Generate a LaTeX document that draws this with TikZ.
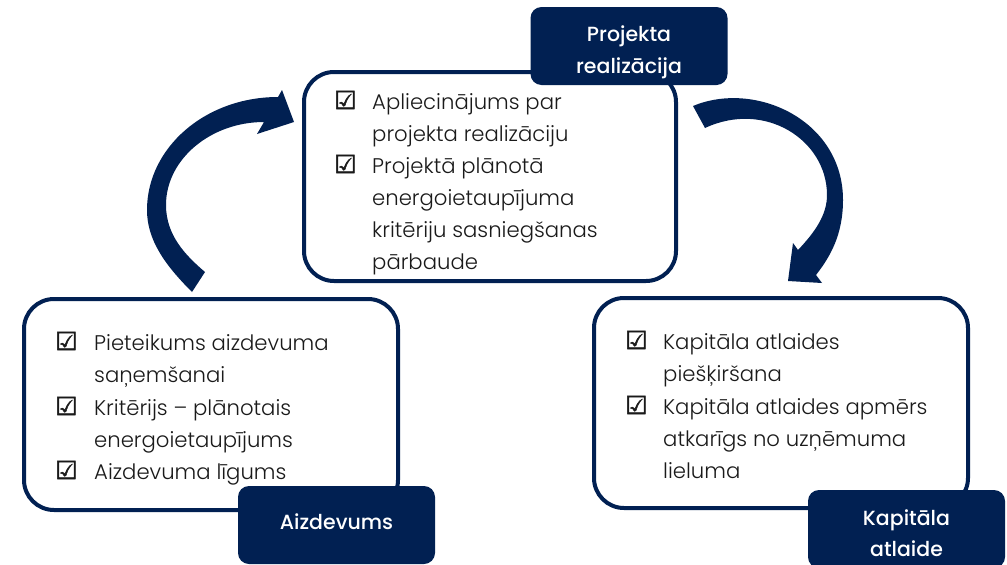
\documentclass[tikz,border=0pt]{standalone}
\usepackage{fontspec}
\setmainfont{Poppins Light}
\newfontfamily\labfont{Poppins Medium}
\newfontfamily\symfont{DejaVu Sans}[FakeBold=2]
\definecolor{navy}{HTML}{012052}
\definecolor{ink}{HTML}{1A1A1A}
\begin{document}
\begin{tikzpicture}[x=1pt,y=-1pt,
  box/.style={draw=navy, line width=4pt, rounded corners=30pt, fill=white, inner sep=0pt},
  lab/.style={fill=navy, rounded corners=11pt, inner sep=0pt, minimum width=197pt, minimum height=78pt},
  labtxt/.style={anchor=base, inner sep=0pt, text=white, font=\labfont\fontsize{20.5}{30}\selectfont},
  txt/.style={anchor=base west, inner sep=0pt, text=ink, font=\fontsize{21.2}{32}\selectfont},
  chk/.style={anchor=base west, inner sep=0pt, text=ink, font=\symfont\fontsize{25}{26}\selectfont}]
\clip (0,0) rectangle (1007,565);
\fill[white] (0,0) rectangle (1007,565);
% curved arrows
\fill[navy] (192,292) .. controls (165,265) and (147,240) .. (147,210)
  .. controls (147,148) and (205,97) .. (278,97)
  -- (282,90) -- (294,122) -- (257,134) -- (264,122)
  .. controls (211,122) and (166,159) .. (166,205)
  .. controls (166,235) and (185,255) .. (205,272) -- cycle;
\fill[navy] (693,106) .. controls (755,80) and (843,120) .. (843,200)
  .. controls (843,235) and (830,257) .. (816,275)
  -- (822,283) -- (788,281) -- (793,243) -- (798,250)
  .. controls (815,232) and (827,215) .. (827,195)
  .. controls (827,140) and (765,100) .. (705,128) -- cycle;
% boxes
\node[box, minimum width=372pt, minimum height=209pt] (top) at (490,176.5) {};
\node[box, minimum width=374pt, minimum height=211pt] (left) at (211,404.5) {};
\node[box, minimum width=374pt, minimum height=210pt] (right) at (781,403) {};
% labels
\node[lab] (labtop) at (629,46) {};
\node[lab] (lableft) at (336.5,525) {};
\node[lab] (labright) at (906.5,529) {};
\node[labtxt] (lt1) at (629,41) {Projekta};
\node[labtxt] (lt2) at (629,73) {realizācija};
\node[labtxt] (ll1) at (336.5,529) {Aizdevums};
\node[labtxt] (lr1) at (906.5,525) {Kapitāla};
\node[labtxt] (lr2) at (906.5,556) {atlaide};
% top box items
\node[chk] (tc1) at (334,109) {☑};
\node[txt] (t1) at (372,109) {Apliecinājums par};
\node[txt] (t2) at (372,141) {projekta realizāciju};
\node[chk] (tc2) at (334,173) {☑};
\node[txt] (t3) at (372,173) {Projektā plānotā};
\node[txt] (t4) at (372,205) {energoietaupījuma};
\node[txt] (t5) at (372,237) {kritēriju sasniegšanas};
\node[txt] (t6) at (372,269) {pārbaude};
% left box items
\node[chk] (lc1) at (55,350) {☑};
\node[txt] (l1) at (94,350) {Pieteikums aizdevuma};
\node[txt] (l2) at (94,382) {saņemšanai};
\node[chk] (lc2) at (55,415) {☑};
\node[txt] (l3) at (94,415) {Kritērijs – plānotais};
\node[txt] (l4) at (94,447) {energoietaupījums};
\node[chk] (lc3) at (55,479) {☑};
\node[txt] (l5) at (94,479) {Aizdevuma līgums};
% right box items
\node[chk] (rc1) at (625,349) {☑};
\node[txt] (r1) at (663,349) {Kapitāla atlaides};
\node[txt] (r2) at (663,381) {piešķiršana};
\node[chk] (rc2) at (625,414) {☑};
\node[txt] (r3) at (663,414) {Kapitāla atlaides apmērs};
\node[txt] (r4) at (663,446) {atkarīgs no uzņēmuma};
\node[txt] (r5) at (663,478) {lieluma};
\end{tikzpicture}
\end{document}
